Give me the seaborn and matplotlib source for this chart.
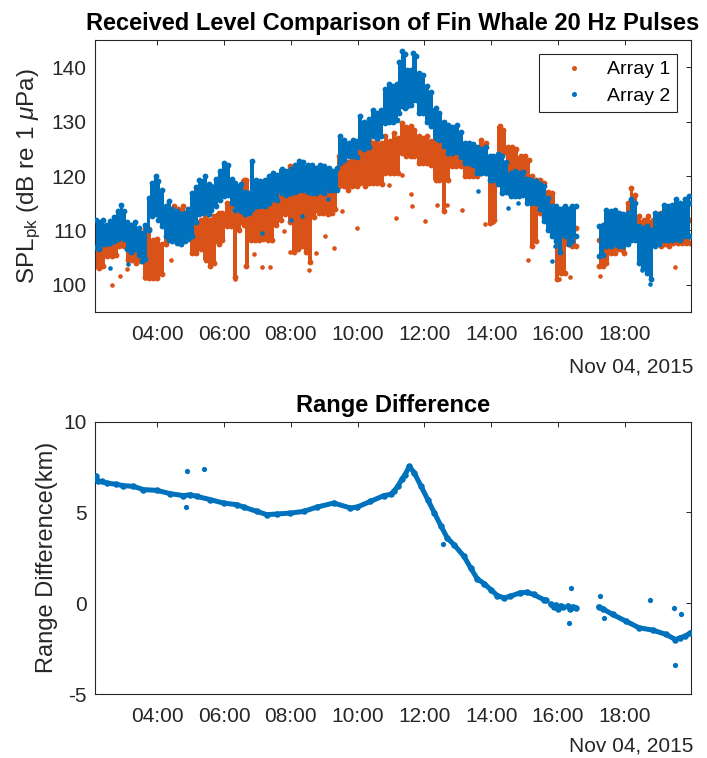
import numpy as np
import pandas as pd
import matplotlib
matplotlib.use("Agg")
import matplotlib.pyplot as plt
import matplotlib.dates as mdates
from matplotlib.lines import Line2D
import seaborn as sns

# ---------------- data ----------------
DAY = "2015-11-04"

# Array 1 (orange) received level band: time, upper edge, lower edge (dB)
a1_time = ["02:09","02:15","02:22","02:30","02:38","02:45","02:52","03:00","03:08","03:15",
           "03:22","03:30","03:38","03:45","03:52","04:00","04:08","04:15","04:22","04:30",
           "04:38","04:46","04:55","05:02","05:10","05:18","05:27","05:35","05:42","05:50",
           "05:57","06:05","06:12","06:20","06:27","06:35","06:40","06:48","06:55","07:02",
           "07:10","07:18","07:26","07:34","07:42","07:50","07:58","08:06","08:13","08:20",
           "08:28","08:35","08:42","08:50","08:58","09:06","09:13","09:20","09:27","09:35",
           "09:42","09:50","09:58","10:05","10:13","10:20","10:28","10:35","10:43","10:50",
           "10:58","11:05","11:12","11:20","11:27","11:35","11:42","11:50","11:57","12:05",
           "12:12","12:20","12:27","12:35","12:42","12:50","12:57","13:05","13:12","13:20",
           "13:27","13:35","13:42","13:50","13:57","14:05","14:15","14:22","14:30","14:38",
           "14:45","14:53","15:00","15:07","15:14","15:20","15:28","15:35","15:42","15:50",
           "15:58","16:05","16:12","16:18","16:25","16:33","16:50","17:14","17:20","17:27",
           "17:35","17:42","17:50","17:58","18:05","18:12","18:18","18:26","18:34","18:42",
           "18:50","18:58","19:05","19:12","19:20","19:27","19:35","19:42","19:50","19:58"]
a1_hi = [109.0,108.5,109.0,109.2,109.2,110.0,110.8,110.5,108.3,108.0,
         108.3,107.5,110.2,110.2,108.3,108.5,107.5,112.0,113.5,114.4,
         114.0,114.4,113.5,112.0,111.5,112.0,112.6,112.0,112.6,113.2,
         113.2,115.0,114.5,113.0,114.0,119.3,119.3,115.0,115.0,114.5,
         115.0,114.5,115.0,116.0,117.0,119.5,121.8,119.0,117.5,116.9,
         116.5,116.9,117.0,117.5,117.0,117.5,117.0,119.0,123.6,123.0,
         122.5,125.4,125.0,125.4,124.5,126.7,126.0,126.7,126.0,127.3,
         126.5,127.9,127.0,129.7,129.0,129.1,128.5,127.3,127.0,127.3,
         126.5,127.9,127.5,127.0,126.5,126.1,125.5,126.1,124.8,124.5,
         124.8,124.0,126.7,126.0,123.0,122.5,129.1,128.5,125.4,125.4,
         125.0,123.6,123.6,123.0,120.0,119.3,119.3,118.7,117.0,116.9,
         109.5,110.0,109.0,110.2,110.8,110.5,None,108.3,108.5,108.3,
         112.0,111.5,112.0,112.0,115.0,117.8,116.5,112.6,112.0,112.6,
         112.0,112.6,113.2,113.0,113.2,112.6,112.6,112.0,112.6,112.0]
a1_lo = [103.4,103.0,103.5,105.3,105.3,105.5,107.1,107.1,104.6,104.6,
         104.0,104.3,101.5,101.3,101.3,101.3,102.0,107.5,108.9,108.9,
         108.9,109.5,108.9,105.9,105.9,106.5,104.5,103.4,104.0,107.5,
         108.3,110.8,110.8,101.5,110.0,111.0,103.4,108.3,108.3,108.3,
         108.5,108.3,108.3,111.0,112.0,113.0,111.5,106.0,106.5,107.1,
         106.0,104.2,112.5,113.2,113.2,113.0,113.2,114.0,118.1,118.1,
         117.5,118.1,118.1,118.7,118.1,118.7,118.7,118.7,118.5,120.5,
         120.5,120.5,120.5,124.2,123.6,123.6,123.6,122.4,122.4,122.4,
         122.0,119.3,119.3,113.5,119.3,121.8,121.8,121.8,120.0,120.0,
         120.0,120.0,120.5,120.5,111.4,112.0,124.2,124.2,120.5,120.5,
         120.5,119.3,119.3,118.5,107.1,108.0,113.2,112.5,111.5,110.8,
         101.0,102.2,102.2,107.5,107.1,107.1,None,103.4,103.4,104.0,
         105.9,105.9,106.5,105.9,111.0,112.0,112.0,109.5,109.5,109.5,
         109.5,109.5,107.1,107.5,107.1,107.7,107.7,107.7,107.7,107.7]

# Array 2 (blue) received level band
a2_time = ["02:09","02:15","02:22","02:28","02:35","02:42","02:50","02:55","03:00","03:06",
           "03:12","03:20","03:27","03:33","03:38","03:45","03:50","03:57","04:02","04:08",
           "04:15","04:21","04:27","04:35","04:42","04:50","04:56","05:02","05:10","05:15",
           "05:22","05:26","05:32","05:37","05:45","05:52","06:00","06:07","06:14","06:20",
           "06:30","06:37","06:44","06:50","06:57","07:05","07:13","07:20","07:27","07:35",
           "07:44","07:52","08:00","08:08","08:15","08:22","08:30","08:38","08:45","08:53",
           "09:00","09:08","09:15","09:22","09:29","09:36","09:44","09:51","09:58","10:05",
           "10:12","10:20","10:27","10:35","10:42","10:50","10:57","11:04","11:10","11:15",
           "11:20","11:25","11:29","11:35","11:40","11:45","11:50","11:57","12:05","12:12",
           "12:20","12:27","12:35","12:42","12:50","12:58","13:05","13:12","13:20","13:27",
           "13:35","13:42","13:50","13:57","14:04","14:12","14:20","14:27","14:35","14:42",
           "14:50","14:57","15:05","15:12","15:20","15:28","15:35","15:42","15:50","15:57",
           "16:04","16:12","16:19","16:26","16:33","16:50","17:14","17:20","17:27","17:35",
           "17:42","17:50","17:57","18:05","18:12","18:18","18:26","18:33","18:40","18:47",
           "18:54","19:02","19:10","19:17","19:24","19:32","19:40","19:48","19:55","19:58"]
a2_hi = [112.0,111.5,112.0,111.0,111.7,112.5,113.5,114.7,113.5,111.5,
         111.0,111.5,110.5,109.5,111.0,116.0,118.7,120.0,119.0,117.5,
         114.5,115.4,114.0,113.5,113.0,113.2,114.0,116.9,118.0,119.3,
         119.0,120.0,118.5,118.1,119.5,121.0,122.4,122.0,119.5,118.7,
         118.5,117.0,116.9,122.7,119.3,119.0,119.3,120.0,120.5,120.2,
         121.2,121.0,121.2,122.0,122.7,122.5,122.0,122.1,121.5,122.0,
         121.8,121.5,121.0,121.5,127.3,126.7,126.0,126.7,126.5,131.0,
         130.0,130.5,132.2,131.5,132.2,136.0,137.0,136.5,137.0,141.0,
         142.9,142.5,139.5,139.5,142.6,142.0,138.9,138.5,136.5,135.5,
         132.5,131.6,130.0,129.4,129.0,129.4,128.0,126.1,126.1,125.8,
         125.4,125.0,125.4,123.6,123.6,124.0,123.6,122.5,120.5,121.0,
         120.5,120.8,119.5,119.3,119.0,118.5,118.1,116.0,114.4,114.4,
         114.0,114.4,114.0,114.4,114.5,None,110.8,111.0,113.8,113.5,
         113.8,113.2,113.0,113.2,115.7,115.0,110.8,110.5,110.8,110.0,
         113.2,113.0,114.7,114.5,114.7,115.7,115.0,115.7,116.3,115.0]
a2_lo = [107.0,106.5,107.5,107.5,107.7,108.0,108.5,109.0,108.5,106.5,
         106.0,106.5,105.5,104.3,104.8,110.0,112.6,113.0,112.0,110.8,
         109.0,108.3,108.0,107.7,107.5,108.0,108.5,108.9,111.5,113.0,
         113.2,113.5,113.0,113.8,114.5,115.5,116.3,116.5,115.0,113.8,
         113.5,113.0,113.2,114.0,114.4,114.4,114.5,115.0,115.7,115.5,
         116.9,116.5,116.9,117.0,117.5,117.5,117.0,116.9,116.9,117.2,
         116.9,117.5,117.5,117.5,122.4,123.0,123.6,123.6,123.5,125.4,
         125.0,125.4,127.3,127.0,127.3,129.7,130.0,130.0,130.3,131.5,
         132.8,132.5,132.8,133.0,134.0,134.0,131.6,131.6,130.0,129.1,
         127.0,126.7,125.5,124.2,124.2,124.5,123.5,122.4,122.4,122.0,
         120.5,120.5,120.5,119.3,119.3,118.5,116.9,117.0,116.3,116.3,
         116.3,116.5,115.0,115.0,115.0,114.0,111.7,110.0,108.9,108.0,
         106.0,108.9,107.5,108.0,108.9,None,105.3,105.5,107.1,107.1,
         107.5,107.1,107.1,107.5,108.3,108.3,104.0,103.0,102.2,101.0,
         107.1,107.5,108.3,108.3,108.3,108.5,108.3,109.0,109.0,109.0]

# isolated detections below the bands
a1_out_time = ["02:39","02:53","03:21","03:06","03:38","04:25","06:19","06:53","07:08","07:23",
               "07:47","07:59","08:32","08:45","09:02","09:17","09:32","09:59","10:56","11:08",
               "11:20","11:35","11:38","12:01","12:22","12:40","13:07","13:49","14:04","15:06",
               "16:01","16:22","17:16","19:31"]
a1_out_db = [100.0,101.7,104.6,102.9,101.3,104.6,101.1,105.6,103.3,103.3,
             109.8,106.1,102.8,105.9,108.9,106.8,113.5,110.5,118.4,112.3,
             120.2,116.6,114.4,111.7,114.7,114.6,113.8,111.1,111.5,104.6,
             101.0,101.5,101.7,103.2]
a2_out_time = ["02:35","03:08","07:08","08:01","08:20","09:07","11:11","13:37","14:31","14:49",
               "15:49","15:55","18:31","18:46"]
a2_out_db = [103.1,103.9,109.5,112.0,112.6,115.7,130.3,117.2,114.1,115.0,
             104.3,107.1,102.8,100.1]

# Range difference (km)
rd_time = ["02:08","02:10","02:13","02:20","02:29","02:45","02:59","03:17","03:35","03:59",
           "04:23","04:47","04:59","05:11","05:35","05:59","06:23","06:35","06:59","07:17",
           "07:35","07:59","08:23","08:47","09:17","09:47","09:59","10:23","10:47","11:00",
           "11:06","11:12","11:20","11:25","11:33","11:42","11:54","12:06","12:18","12:30",
           "12:41","12:53","13:11","13:23","13:35","13:47","13:59","14:11","14:23","14:34",
           "14:52","15:04","15:16","15:34","15:38","15:42","15:47","15:52","15:56","16:00",
           "16:05","16:09","16:14","16:18","16:22","16:27","16:32","16:50","17:13","17:20",
           "17:38","18:02","18:26","18:50","19:14","19:31","19:40","19:49","19:58"]
rd_km = [6.9,7.0,6.7,6.7,6.61,6.55,6.47,6.43,6.25,6.21,
         6.03,5.92,5.97,5.88,5.7,5.51,5.42,5.29,5.05,4.87,
         4.91,4.96,5.05,5.29,5.51,5.24,5.29,5.6,5.92,6.0,
         6.2,6.43,6.85,7.07,7.53,7.16,6.43,5.7,4.96,4.23,
         3.59,3.22,2.58,1.94,1.34,1.08,0.75,0.42,0.29,0.38,
         0.57,0.6,0.48,0.2,0.15,None,-0.05,-0.2,-0.1,-0.3,
         -0.15,-0.2,None,-0.15,-0.3,-0.2,-0.25,None,-0.2,-0.3,
         -0.62,-0.99,-1.36,-1.48,-1.72,-2.0,-1.9,-1.81,-1.63]
rd_out_time = ["04:52","04:54","05:23","12:34","16:20","16:23","17:15","17:22","18:45","19:29",
               "19:30","19:41"]
rd_out_km = [5.27,7.25,7.38,3.28,-1.08,0.84,0.38,-0.84,0.2,-0.29,
             -3.41,-0.62]

series_names = ["Array 1", "Array 2"]
spl_ticks = [100, 110, 120, 130, 140]
rd_ticks = [-5, 0, 5, 10]
x_start, x_end = "02:08", "19:59"
date_label = "Nov 04, 2015"

# ---------------- styling ----------------
sns.set_theme(style="white")
plt.rcParams["font.family"] = ["Liberation Sans", "DejaVu Sans"]
plt.rcParams["mathtext.fontset"] = "custom"
plt.rcParams["mathtext.rm"] = "Liberation Sans"
plt.rcParams["mathtext.it"] = "Liberation Sans:italic"
plt.rcParams["axes.unicode_minus"] = False

C1 = "#D95319"
C2 = "#0072BD"
AX = "#262626"


def ts(lst):
    return pd.to_datetime([f"{DAY} {t}" for t in lst])


def num(lst):
    return np.array([np.nan if v is None else v for v in lst], dtype=float)


fig = plt.figure(figsize=(7.07, 7.58), dpi=100)
ax1 = fig.add_axes([95 / 707, 1 - 312 / 758, 596 / 707, 272 / 758])
ax2 = fig.add_axes([95 / 707, 1 - 694 / 758, 596 / 707, 272.5 / 758])

DOT = 11


def band(ax, t, hi, lo, color, z):
    tt = ts(t)
    h = num(hi)
    l = num(lo)
    ax.fill_between(tt, l, h, step="mid", color=color, lw=0, zorder=z)
    df = pd.DataFrame({"t": list(tt) + list(tt), "v": list(h) + list(l)}).dropna()
    sns.scatterplot(data=df, x="t", y="v", color=color, s=DOT * 1.6, linewidth=0,
                    ax=ax, zorder=z, legend=False)


band(ax1, a1_time, a1_hi, a1_lo, C1, 2)
sns.scatterplot(x=ts(a1_out_time), y=a1_out_db, color=C1, s=DOT, linewidth=0,
                ax=ax1, zorder=2, legend=False)
band(ax1, a2_time, a2_hi, a2_lo, C2, 3)
sns.scatterplot(x=ts(a2_out_time), y=a2_out_db, color=C2, s=DOT, linewidth=0,
                ax=ax1, zorder=3, legend=False)

# bottom: range difference
rt = ts(rd_time)
rk = num(rd_km)
ax2.plot(rt, rk, color=C2, lw=3.6, solid_capstyle="round", zorder=2)
dfr = pd.DataFrame({"t": rt, "v": rk}).dropna()
sns.scatterplot(data=dfr, x="t", y="v", color=C2, s=DOT * 2, linewidth=0, ax=ax2,
                zorder=3, legend=False)
sns.scatterplot(x=ts(rd_out_time), y=rd_out_km, color=C2, s=DOT * 1.3, linewidth=0,
                ax=ax2, zorder=3, legend=False)

x0 = pd.Timestamp(f"{DAY} {x_start}")
x1 = pd.Timestamp(f"{DAY} {x_end}")
for ax in (ax1, ax2):
    ax.set_xlim(x0, x1)
    ax.xaxis.set_major_locator(mdates.HourLocator(byhour=range(4, 20, 2)))
    ax.xaxis.set_major_formatter(mdates.DateFormatter("%H:%M"))
    ax.tick_params(direction="in", length=3.6, width=0.7, top=True, right=True,
                   colors=AX, labelcolor=AX, labelsize=15, pad=6)
    ax.tick_params(axis="x", pad=9)
    for s in ax.spines.values():
        s.set_color(AX)
        s.set_linewidth(0.8)
    ax.set_xlabel("")
    ax.grid(False)

ax1.set_ylim(95, 145)
ax1.set_yticks(spl_ticks)
ax2.set_ylim(-5, 10)
ax2.set_yticks(rd_ticks)

ax1.set_title("Received Level Comparison of Fin Whale 20 Hz Pulses", fontsize=17,
              fontweight="bold", color="black", pad=7)
ax2.set_title("Range Difference", fontsize=17, fontweight="bold", color="black", pad=7)

ax1.set_ylabel(r"SPL$_{\mathrm{pk}}$ (dB re 1 $\mu$Pa)", fontsize=17.5, color=AX)
ax1.yaxis.set_label_coords(-0.088, 0.5)
ax2.set_ylabel("Range Difference(km)", fontsize=17, color=AX)
ax2.yaxis.set_label_coords(-0.062, 0.5)

fig.text(693 / 707, 1 - 367 / 758, date_label, ha="right", va="center",
         fontsize=15, color=AX)
fig.text(693 / 707, 1 - 746 / 758, date_label, ha="right", va="center",
         fontsize=15, color=AX)

handles = [Line2D([], [], ls="", marker="o", markersize=3.6, color=c, markeredgewidth=0)
           for c in (C1, C2)]
leg = ax1.legend(handles, series_names, loc="upper right",
                 bbox_to_anchor=(582 / 596, (312 - 54) / 272), borderaxespad=0,
                 fontsize=14, frameon=True, fancybox=False, framealpha=1,
                 edgecolor=AX, handlelength=2.9, handletextpad=0.25,
                 borderpad=0.35, labelspacing=0.45)
leg.get_frame().set_linewidth(0.8)
for txt in leg.get_texts():
    txt.set_color("black")

fig.savefig("out.png", dpi=100)
